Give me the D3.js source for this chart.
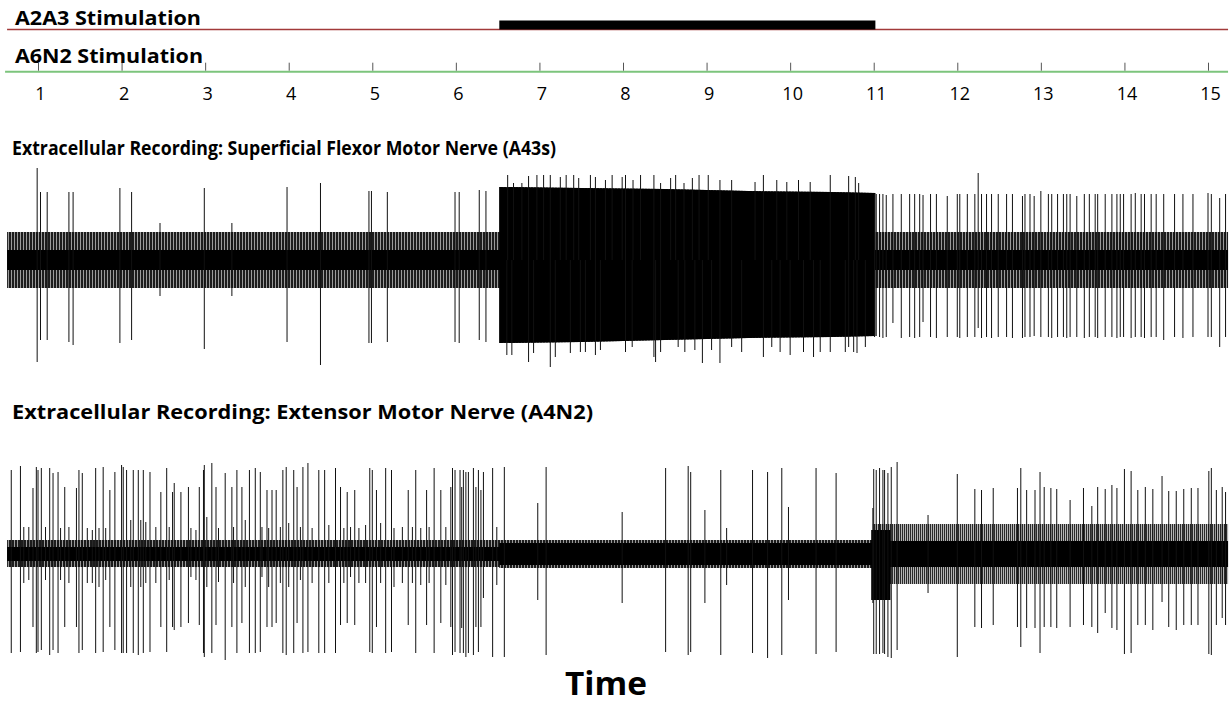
<!DOCTYPE html>
<html>
<head>
<meta charset="utf-8">
<script src="https://cdn.jsdelivr.net/npm/d3@7/dist/d3.min.js"></script>
<style>
  body { margin: 0; background: #fff; }
  svg { display: block; }
  text { font-family: "Open Sans", "DejaVu Sans", sans-serif; fill: #000; }
</style>
</head>
<body>
<svg id="chart" width="1231" height="706"></svg>
<script>
// ---------- time axis ----------
const timeTicks = [1, 2, 3, 4, 5, 6, 7, 8, 9, 10, 11, 12, 13, 14, 15];
const recordingSpan = [0.63, 15.24];          // seconds shown
const a2a3Stimulation = [6.52, 11.02];        // A2A3 stimulus on/off (s)

// ---------- A43s (superficial flexor) ----------
// noise envelope: [time, upper, lower]
const flexorOuter = [
  [0.63, 28, -28], [6.52, 28, -28],
  [6.52, 73, -83], [7.5, 72, -82], [8.5, 71, -80], [9.5, 69, -78], [10.5, 68, -77], [11.02, 67, -76],
  [11.02, 28, -28], [15.24, 28, -28]
];
const flexorCore = [
  [0.63, 10, -10], [6.52, 10, -10],
  [6.52, 73, -83], [7.5, 72, -82], [8.5, 71, -80], [9.5, 69, -78], [10.5, 68, -77], [11.02, 67, -76],
  [11.02, 10, -10], [15.24, 10, -10]
];
// single units: [time, upward peak, downward peak]
const flexorSpikes = [
  [0.99, 92, 102], [1.03, 68, 80], [1.11, 68, 80], [1.37, 68, 82], [1.42, 68, 85],
  [1.98, 72, 83], [2.12, 68, 80], [2.46, 37, 36], [2.99, 72, 89], [3.32, 37, 36],
  [3.98, 73, 82], [4.38, 77, 105], [4.96, 69, 83], [4.99, 69, 83], [5.18, 68, 82],
  [5.99, 68, 82], [6.04, 68, 83], [6.28, 70, 80], [6.36, 69, 82],
  [11.01, 66, 77], [11.03, 66, 76], [11.07, 66, 77], [11.11, 66, 78], [11.15, 65, 77],
  [11.23, 66, 63], [11.33, 66, 78], [11.43, 66, 77], [11.49, 66, 78], [11.55, 66, 77],
  [11.59, 65, 62], [11.68, 66, 77], [11.75, 66, 78], [11.88, 64, 77], [12.00, 66, 77],
  [12.03, 66, 78], [12.12, 66, 77], [12.21, 66, 77], [12.25, 87, 68], [12.29, 66, 78],
  [12.35, 66, 77], [12.41, 66, 78], [12.49, 66, 77], [12.59, 66, 77], [12.66, 66, 78],
  [12.78, 64, 78], [12.81, 66, 77], [12.87, 66, 77], [12.92, 64, 76], [13.00, 69, 77],
  [13.09, 66, 77], [13.13, 66, 78], [13.20, 66, 77], [13.27, 66, 77], [13.31, 66, 78],
  [13.35, 66, 77], [13.43, 64, 77], [13.52, 66, 78], [13.58, 66, 77], [13.65, 66, 77],
  [13.68, 66, 78], [13.77, 66, 77], [13.85, 66, 77], [13.91, 66, 78], [13.95, 66, 77],
  [13.99, 66, 77], [14.08, 66, 78], [14.13, 67, 77], [14.20, 66, 77], [14.24, 66, 78],
  [14.32, 66, 77], [14.38, 66, 77], [14.47, 66, 80], [14.60, 66, 77], [14.70, 66, 78],
  [14.82, 66, 77], [15.00, 67, 77], [15.04, 66, 77], [15.14, 62, 87], [15.21, 66, 77]
];
// peaks rising out of the stimulus-evoked burst: [time, amplitude]
const flexorBurstUp = [
  [6.62, 85], [6.69, 77], [6.79, 77], [6.87, 84], [6.97, 85], [7.05, 85], [7.13, 85],
  [7.25, 83], [7.32, 85], [7.41, 85], [7.47, 82], [7.61, 85], [7.67, 83], [7.79, 80],
  [7.87, 85], [7.99, 83], [8.03, 85], [8.12, 80], [8.21, 85], [8.37, 85], [8.45, 77],
  [8.57, 82], [8.63, 85], [8.73, 77], [8.83, 82], [8.91, 85], [9.02, 85], [9.16, 80],
  [9.30, 80], [9.58, 78], [9.68, 85], [9.84, 80], [9.96, 78], [10.10, 80], [10.24, 78],
  [10.48, 85], [10.70, 84], [10.78, 83], [10.82, 77]
];
const flexorBurstDown = [
  [6.61, 95], [6.67, 95], [6.87, 102], [6.93, 93], [7.13, 107], [7.19, 97], [7.37, 93],
  [7.49, 92], [7.55, 92], [7.67, 95], [7.73, 90], [8.03, 92], [8.11, 87], [8.37, 97],
  [8.39, 102], [8.45, 92], [8.66, 87], [8.74, 92], [8.86, 90], [8.95, 103], [9.06, 90],
  [9.16, 103], [9.30, 87], [9.42, 92], [9.68, 97], [9.78, 87], [9.88, 92], [10.00, 95],
  [10.16, 92], [10.28, 97], [10.36, 92], [10.48, 92], [10.66, 92], [10.70, 87], [10.76, 92],
  [10.80, 93], [10.90, 87]
];

// ---------- A4N2 (extensor) ----------
const extensorOuter = [
  [0.63, 14, -13], [6.52, 14, -13],
  [6.52, 14, -14], [10.99, 14, -14]
];
const extensorOuterLate = [
  [10.99, 30, -30], [15.24, 30, -30]
];
const extensorCore = [
  [0.63, 7, -7], [6.52, 7, -7],
  [6.52, 11, -11], [10.97, 11, -11], [10.97, 24, -46], [11.2, 24, -46],
  [11.2, 13, -13], [15.24, 13, -13]
];
const extensorSpikes = [
  [0.68, 84, 99], [0.79, 88, 98], [0.94, 66, 73], [0.98, 87, 99], [1.00, 84, 98],
  [1.04, 86, 96], [1.14, 86, 101], [1.18, 81, 96], [1.24, 82, 99], [1.32, 67, 73],
  [1.46, 66, 73], [1.49, 84, 99], [1.53, 81, 96], [1.69, 86, 99], [1.78, 87, 98],
  [1.86, 64, 73], [1.92, 82, 96], [2.00, 89, 99], [2.02, 87, 99], [2.06, 84, 99],
  [2.14, 84, 99], [2.20, 84, 101], [2.26, 84, 99], [2.34, 82, 98], [2.47, 62, 73],
  [2.54, 86, 98], [2.61, 62, 73], [2.63, 71, 76], [2.71, 62, 73], [2.80, 67, 69],
  [2.93, 67, 71], [2.98, 84, 99], [2.99, 89, 103], [3.08, 91, 99], [3.13, 67, 71],
  [3.24, 81, 106], [3.32, 67, 73], [3.38, 84, 99], [3.44, 67, 69], [3.53, 84, 99],
  [3.60, 86, 99], [3.66, 82, 98], [3.74, 64, 73], [3.80, 64, 73], [3.85, 64, 69],
  [3.93, 84, 99], [3.97, 87, 101], [4.06, 84, 99], [4.10, 67, 69], [4.17, 87, 99],
  [4.23, 91, 98], [4.36, 84, 99], [4.43, 84, 99], [4.56, 86, 99], [4.62, 67, 71],
  [4.70, 62, 69], [4.79, 64, 71], [4.97, 86, 98], [5.00, 84, 99], [5.05, 64, 73],
  [5.16, 86, 99], [5.23, 84, 98], [5.43, 64, 71], [5.52, 84, 99], [5.65, 64, 71],
  [5.74, 86, 99], [5.82, 64, 69], [5.88, 27, 31], [5.94, 67, 73], [5.96, 86, 101],
  [5.99, 84, 98], [6.05, 84, 99], [6.07, 67, 74], [6.09, 84, 99], [6.12, 82, 103],
  [6.15, 82, 99], [6.21, 86, 101], [6.24, 67, 73], [6.27, 84, 98], [6.30, 64, 73],
  [6.33, 82, 44], [6.44, 86, 103], [6.49, 27, 31], [6.58, 87, 103], [6.98, 51, 46],
  [7.08, 87, 101], [7.99, 42, 49], [8.51, 86, 98], [8.78, 88, 101], [8.81, 82, 98],
  [8.98, 44, 49], [9.17, 84, 101], [9.24, 26, 31], [9.55, 84, 99], [9.73, 82, 104],
  [9.90, 86, 101], [9.98, 47, 46], [10.31, 86, 100], [10.55, 81, 98],
  [10.99, 46, 49], [11.00, 85, 100], [11.03, 84, 100], [11.07, 86, 100], [11.11, 84, 99],
  [11.13, 84, 100], [11.17, 81, 103], [11.21, 87, 104], [11.28, 92, 96], [11.65, 39, 39],
  [12.00, 80, 103], [12.21, 65, 73], [12.29, 64, 74], [12.43, 66, 71], [12.72, 66, 73],
  [12.76, 86, 93], [12.83, 64, 74], [12.93, 64, 74], [12.99, 82, 99], [13.04, 67, 73],
  [13.12, 66, 73], [13.19, 65, 74], [13.35, 54, 73], [13.51, 66, 71], [13.61, 48, 73],
  [13.68, 67, 79], [13.77, 65, 59], [13.85, 69, 74], [13.91, 66, 76], [14.00, 85, 100],
  [14.08, 83, 99], [14.16, 64, 71], [14.25, 67, 71], [14.34, 65, 76], [14.45, 78, 48],
  [14.53, 63, 73], [14.62, 63, 76], [14.71, 65, 71], [14.80, 66, 71], [14.88, 66, 71],
  [15.01, 83, 100], [15.04, 86, 101], [15.10, 64, 71], [15.17, 67, 64], [15.21, 62, 71]
];
// smaller units riding on the baseline before stimulation
const extensorSmall = [
  [0.83, 27, 29], [0.89, 27, 26], [1.09, 27, 26], [1.27, 26, 26], [1.37, 27, 29],
  [1.59, 26, 29], [1.65, 24, 29], [1.73, 26, 33], [1.81, 26, 26], [2.11, 34, 33],
  [2.23, 34, 33], [2.29, 32, 29], [2.41, 27, 29], [2.57, 27, 26], [2.83, 26, 23],
  [2.89, 24, 26], [3.02, 37, 33], [3.16, 26, 28], [3.34, 27, 29], [3.48, 34, 33],
  [3.68, 27, 23], [3.76, 26, 33], [3.90, 27, 29], [4.00, 31, 33], [4.14, 27, 26],
  [4.28, 26, 29], [4.48, 29, 29], [4.66, 26, 29], [4.74, 27, 23], [4.84, 26, 29],
  [4.92, 29, 29], [5.10, 31, 29], [5.26, 26, 33], [5.36, 27, 29], [5.48, 27, 29],
  [5.58, 26, 31], [5.68, 27, 29]
];

// ---------- drawing ----------
const svg = d3.select("#chart");
svg.append("rect").attr("width", 1231).attr("height", 706).attr("fill", "#fff");

const x = d3.scaleLinear().domain([1, 15]).range([38, 1208]);

// striped fills for the dense low-amplitude noise
const defs = svg.append("defs");
function stripes(id, dark, gap, darkCol, gapCol) {
  const p = defs.append("pattern").attr("id", id)
    .attr("patternUnits", "userSpaceOnUse").attr("width", dark + gap).attr("height", 10);
  p.append("rect").attr("width", dark).attr("height", 10).attr("fill", darkCol);
  p.append("rect").attr("x", dark).attr("width", gap).attr("height", 10).attr("fill", gapCol);
}
stripes("noiseDense", 2, 1, "#1c1c1c", "#9a9a9a");
stripes("noiseSparse", 1, 1, "#2a2a2a", "#b4b4b4");

// stimulus channels
const stimA2A3Y = 29.5, stimA6N2Y = 71.7;
svg.append("line")
  .attr("x1", x(recordingSpan[0])).attr("x2", x(recordingSpan[1]))
  .attr("y1", stimA2A3Y).attr("y2", stimA2A3Y)
  .attr("stroke", "#a23a3a").attr("stroke-width", 1.3);
svg.append("rect")
  .attr("x", x(a2a3Stimulation[0])).attr("width", x(a2a3Stimulation[1]) - x(a2a3Stimulation[0]))
  .attr("y", 20.5).attr("height", stimA2A3Y - 20.5)
  .attr("fill", "#000");
svg.append("line")
  .attr("x1", x(recordingSpan[0]) - 2).attr("x2", x(recordingSpan[1]))
  .attr("y1", stimA6N2Y).attr("y2", stimA6N2Y)
  .attr("stroke", "#7cc47c").attr("stroke-width", 2);

const axis = d3.axisBottom(x).tickValues(timeTicks).tickFormat(d3.format("d"))
  .tickSizeInner(-8).tickSizeOuter(0).tickPadding(17);
const ag = svg.append("g").attr("transform", `translate(0,${stimA6N2Y - 1})`).call(axis);
ag.select(".domain").remove();
ag.selectAll(".tick line").attr("stroke", "#555").attr("stroke-width", 1);
ag.selectAll(".tick text").attr("font-size", 18).attr("font-family", '"Open Sans", sans-serif')
  .attr("fill", "#111").attr("dx", 2);

// labels
function label(txt, xPos, yPos, size, len) {
  svg.append("text").attr("x", xPos).attr("y", yPos)
    .attr("font-size", size).attr("font-weight", 700)
    .attr("textLength", len).attr("lengthAdjust", "spacingAndGlyphs")
    .text(txt);
}
label("A2A3 Stimulation", 15, 25, 19, 186);
label("A6N2 Stimulation", 15, 63, 19, 188);
label("Extracellular  Recording: Superficial Flexor Motor Nerve (A43s)", 12, 155, 19.5, 544);
label("Extracellular  Recording: Extensor Motor Nerve (A4N2)", 12, 419, 19.5, 581);
svg.append("text").attr("x", 606).attr("y", 695).attr("text-anchor", "middle")
  .attr("font-size", 32).attr("font-weight", 700)
  .attr("textLength", 82).attr("lengthAdjust", "spacingAndGlyphs").text("Time");

// one recording trace
function drawTrace(baseline, bands, core, spikeSets) {
  const y = d3.scaleLinear().domain([-110, 110]).range([baseline + 110, baseline - 110]);
  const g = svg.append("g");
  const band = d3.area().x(d => x(d[0])).y0(d => y(d[2])).y1(d => y(d[1]));
  bands.forEach(([rows, fill]) => g.append("path").datum(rows).attr("d", band).attr("fill", fill));
  g.append("path").datum(core).attr("d", band).attr("fill", "#000");
  spikeSets.forEach(set => {
    g.selectAll(null).data(set).enter().append("line")
      .attr("x1", d => x(d[0])).attr("x2", d => x(d[0]))
      .attr("y1", d => y(d[1])).attr("y2", d => y(-d[2]))
      .attr("stroke", "#111").attr("stroke-width", 1);
  });
  return y;
}

const yFlex = drawTrace(260, [[flexorOuter, "url(#noiseDense)"]], flexorCore, [flexorSpikes]);
const burst = svg.append("g");
burst.selectAll(null).data(flexorBurstUp).enter().append("line")
  .attr("x1", d => x(d[0])).attr("x2", d => x(d[0]))
  .attr("y1", d => yFlex(d[1])).attr("y2", yFlex(0))
  .attr("stroke", "#111").attr("stroke-width", 1);
burst.selectAll(null).data(flexorBurstDown).enter().append("line")
  .attr("x1", d => x(d[0])).attr("x2", d => x(d[0]))
  .attr("y1", yFlex(0)).attr("y2", d => yFlex(-d[1]))
  .attr("stroke", "#111").attr("stroke-width", 1);

drawTrace(554,
  [[extensorOuter, "url(#noiseDense)"], [extensorOuterLate, "url(#noiseSparse)"]],
  extensorCore, [extensorSmall, extensorSpikes]);
</script>
</body>
</html>
